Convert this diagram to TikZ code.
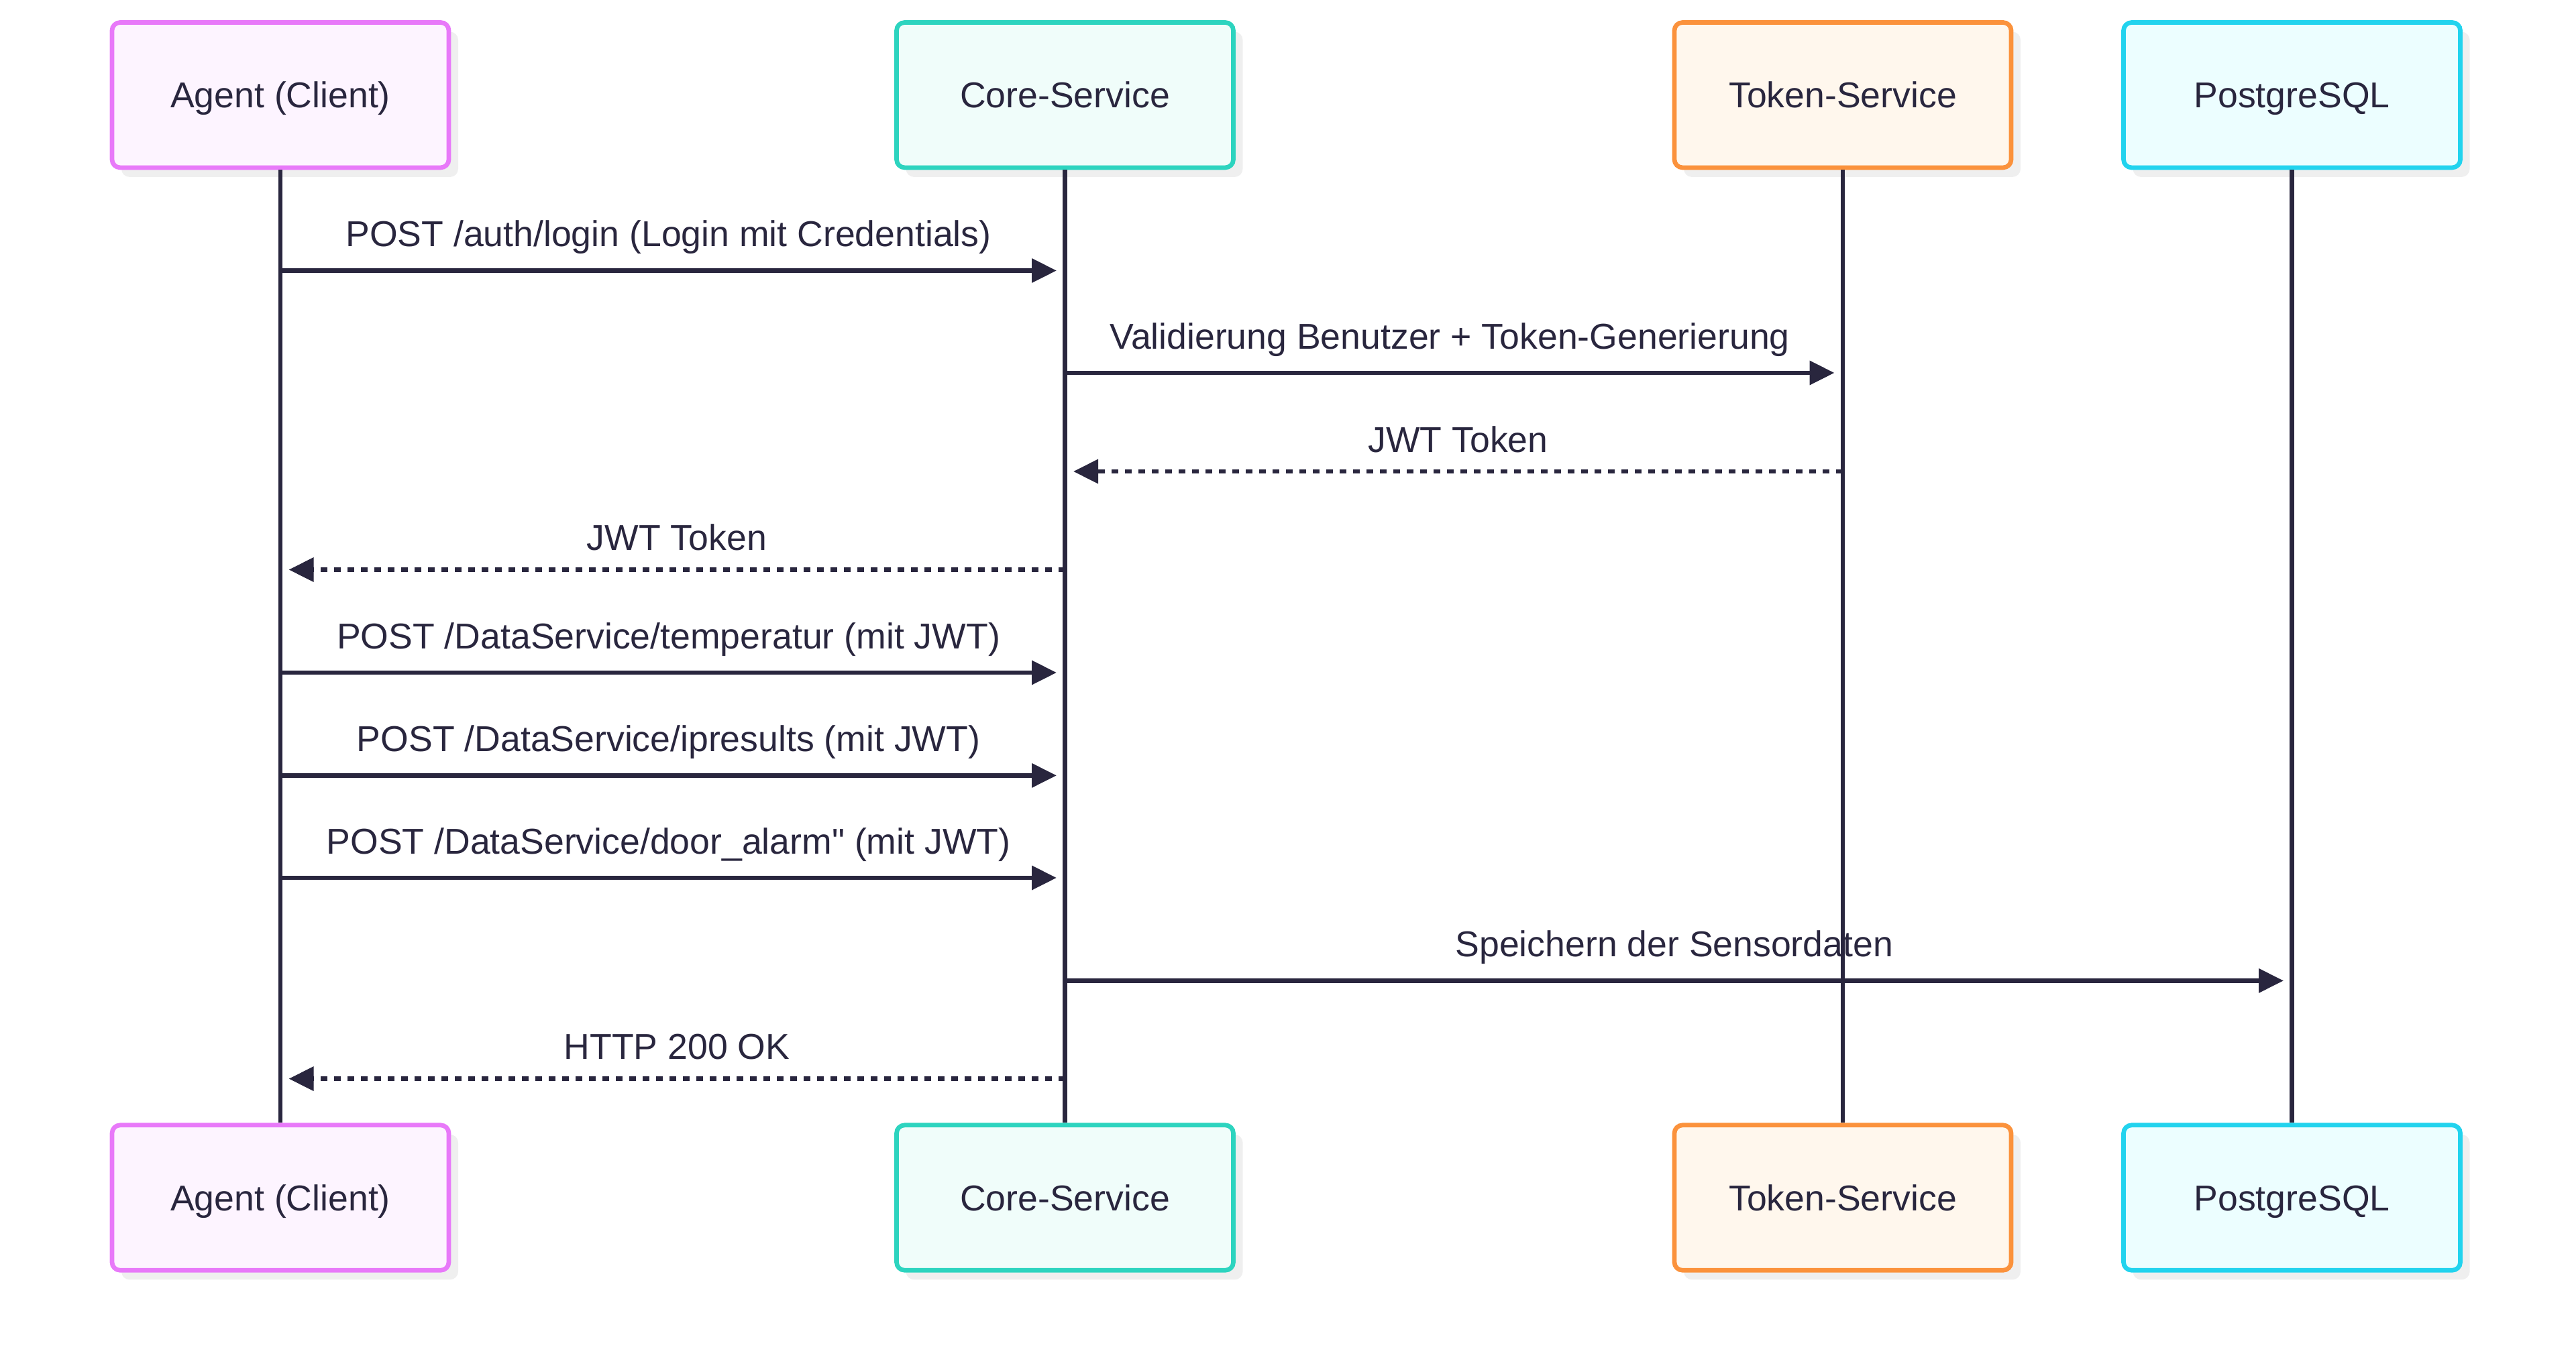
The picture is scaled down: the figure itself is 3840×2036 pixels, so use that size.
\documentclass[tikz,border=0pt]{standalone}
\usepackage{fontspec}
\setmainfont{Liberation Sans}[Ligatures=TeXOff]
\usetikzlibrary{arrows.meta,shadows}
\definecolor{ink}{RGB}{41,38,62}
\definecolor{shd}{RGB}{239,239,239}
\definecolor{agS}{HTML}{E879F9}\definecolor{agF}{HTML}{FDF4FF}
\definecolor{coS}{HTML}{2DD4BF}\definecolor{coF}{HTML}{F0FDFA}
\definecolor{toS}{HTML}{FB923C}\definecolor{toF}{HTML}{FFF7ED}
\definecolor{pgS}{HTML}{22D3EE}\definecolor{pgF}{HTML}{ECFEFF}
\tikzset{
  actorbox/.style={draw=#1S, fill=#1F, line width=1.675pt, rounded corners=3pt,
    minimum width=125.5pt, minimum height=54.1pt, text height=9.6pt, text depth=0pt,
    inner sep=0pt, text=ink, font=\fontsize{13.4pt}{16pt}\selectfont,
    drop shadow={shadow xshift=3.5pt, shadow yshift=-3.5pt, fill=shd, opacity=1}},
  lifeline/.style={draw=ink, line width=1.675pt},
  msg/.style={draw=ink, line width=1.675pt, -{Triangle[length=9.25pt,width=8.75pt]}},
  reply/.style={msg, dash pattern=on 2.5pt off 2.5pt},
  lbl/.style={anchor=base, midway, yshift=9pt, inner sep=0pt, text=ink, font=\fontsize{13.4pt}{16pt}\selectfont},
  rlbl/.style={lbl, yshift=-1.75pt}
}
\begin{document}
\begin{tikzpicture}[x=0.25pt,y=-0.25pt]
\useasboundingbox (0,0) rectangle (3840,2036);
\def\xa{418}\def\xc{1587.5}\def\xt{2747}\def\xp{3416.5}
% actor boxes top
\node[actorbox=ag] (at) at (\xa,141.7) {Agent (Client)};
\node[actorbox=co] (ct) at (\xc,141.7) {Core-Service};
\node[actorbox=to] (tt) at (\xt,141.7) {Token-Service};
\node[actorbox=pg] (pt) at (\xp,141.7) {PostgreSQL};
% actor boxes bottom
\node[actorbox=ag] (ab) at (\xa,1786) {Agent (Client)};
\node[actorbox=co] (cb) at (\xc,1786) {Core-Service};
\node[actorbox=to] (tb) at (\xt,1786) {Token-Service};
\node[actorbox=pg] (pb) at (\xp,1786) {PostgreSQL};
% lifelines
\draw[lifeline] (at.south) -- (ab.north);
\draw[lifeline] (ct.south) -- (cb.north);
\draw[lifeline] (tt.south) -- (tb.north);
\draw[lifeline] (pt.south) -- (pb.north);
% message endpoints
\coordinate (m1s) at (\xa,403.5);   \coordinate (m1e) at (\xc-12.5,403.5);
\coordinate (m2s) at (\xc,556);     \coordinate (m2e) at (\xt-12.5,556);
\coordinate (m3s) at (\xt,703);     \coordinate (m3e) at (\xc+12.5,703);
\coordinate (m4s) at (\xc,849.5);   \coordinate (m4e) at (\xa+12.5,849.5);
\coordinate (m5s) at (\xa,1003);    \coordinate (m5e) at (\xc-12.5,1003);
\coordinate (m6s) at (\xa,1156.4);  \coordinate (m6e) at (\xc-12.5,1156.4);
\coordinate (m7s) at (\xa,1309);    \coordinate (m7e) at (\xc-12.5,1309);
\coordinate (m8s) at (\xc,1462.4);  \coordinate (m8e) at (\xp-12.5,1462.4);
\coordinate (m9s) at (\xc,1608.6);  \coordinate (m9e) at (\xa+12.5,1608.6);
% messages
\draw[msg] (m1s) -- node[lbl] (l1) {POST /auth/login (Login mit Credentials)} (m1e);
\draw[msg] (m2s) -- node[lbl] (l2) {Validierung Benutzer + Token-Generierung} (m2e);
\draw[reply] (m3s) -- node[rlbl] (l3) {JWT Token} (m3e);
\draw[reply] (m4s) -- node[rlbl] (l4) {JWT Token} (m4e);
\draw[msg] (m5s) -- node[lbl] (l5) {POST /DataService/temperatur (mit JWT)} (m5e);
\draw[msg] (m6s) -- node[lbl] (l6) {POST /DataService/ipresults (mit JWT)} (m6e);
\draw[msg] (m7s) -- node[lbl] (l7) {POST /DataService/door\_alarm" (mit JWT)} (m7e);
\draw[msg] (m8s) -- node[lbl] (l8) {Speichern der Sensordaten} (m8e);
\draw[reply] (m9s) -- node[rlbl] (l9) {HTTP 200 OK} (m9e);
\end{tikzpicture}
\end{document}
